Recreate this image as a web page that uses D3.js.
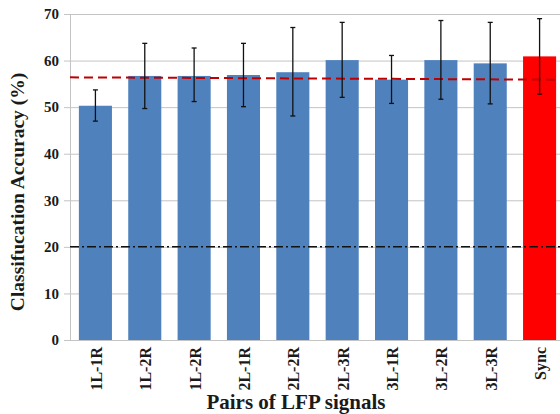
<!DOCTYPE html>
<html><head><meta charset="utf-8">
<script src="https://cdn.jsdelivr.net/npm/d3@7"></script>
<style>body{margin:0;background:#fff} text{font-family:"Liberation Serif","DejaVu Serif",serif;font-weight:bold;fill:#1a1a1a}</style>
</head><body>
<svg id="c" width="560" height="414"></svg>
<script>
const categories = ["1L-1R","1L-2R","1L-2R","2L-1R","2L-2R","2L-3R","3L-1R","3L-2R","3L-3R","Sync"];
const accuracy   = [50.3, 56.7, 56.7, 56.9, 57.5, 60.1, 55.9, 60.1, 59.4, 60.9];
const errLow     = [47.0, 49.7, 51.2, 50.1, 48.1, 52.1, 50.8, 51.7, 50.7, 52.8];
const errHigh    = [53.7, 63.7, 62.7, 63.7, 67.1, 68.2, 61.1, 68.6, 68.2, 69.0];
const barColors  = ["#4f81bd","#4f81bd","#4f81bd","#4f81bd","#4f81bd","#4f81bd","#4f81bd","#4f81bd","#4f81bd","#ff0000"];
const meanLine   = [56.4, 55.9];
const chanceLevel = [20, 20];
const yTicks = [0,10,20,30,40,50,60,70];

const svg = d3.select("#c");
const x = d3.scaleBand().domain(d3.range(categories.length)).range([70,565]).paddingInner(0.33).paddingOuter(0.18);
const y = d3.scaleLinear().domain([0,70]).range([340,14]);
const xl = d3.scaleLinear().domain([0,1]).range([70,560]);

// grid
svg.append("g").selectAll("line").data(yTicks).join("line")
  .attr("x1",64).attr("x2",560).attr("y1",d=>y(d)+0.5).attr("y2",d=>y(d)+0.5)
  .attr("stroke","#c4c4c4").attr("stroke-width",1);
svg.append("line").attr("x1",70.5).attr("x2",70.5).attr("y1",y(70)).attr("y2",y(0))
  .attr("stroke","#c4c4c4");

// y labels
svg.append("g").selectAll("text").data(yTicks).join("text")
  .attr("x",59).attr("y",d=>y(d)).attr("dy","0.35em").attr("text-anchor","end")
  .attr("font-size",15).text(d=>d);

// bars
svg.append("g").selectAll("rect").data(accuracy).join("rect")
  .attr("x",(d,i)=>x(i)).attr("width",x.bandwidth())
  .attr("y",d=>y(d)).attr("height",d=>y(0)-y(d))
  .attr("fill",(d,i)=>barColors[i]);

// chance line
const line = d3.line().x(d=>d[0]).y(d=>d[1]);
svg.append("path").attr("d",line(chanceLevel.map((v,i)=>[xl(i),y(v)])))
  .attr("stroke","#111").attr("stroke-width",1.5).attr("fill","none")
  .attr("stroke-dasharray","9,3,2,3");

// mean line
svg.append("path").attr("d",line(meanLine.map((v,i)=>[xl(i),y(v)])))
  .attr("stroke","#c00000").attr("stroke-width",2).attr("fill","none")
  .attr("stroke-dasharray","9,5");

// error bars
const eb = svg.append("g").attr("stroke","#111").attr("stroke-width",1.3);
categories.forEach((c,i)=>{
  const cx = x(i)+x.bandwidth()/2;
  eb.append("line").attr("x1",cx).attr("x2",cx).attr("y1",y(errLow[i])).attr("y2",y(errHigh[i]));
  eb.append("line").attr("x1",cx-2.5).attr("x2",cx+2.5).attr("y1",y(errLow[i])).attr("y2",y(errLow[i]));
  eb.append("line").attr("x1",cx-2.5).attr("x2",cx+2.5).attr("y1",y(errHigh[i])).attr("y2",y(errHigh[i]));
});

// x labels
svg.append("g").selectAll("text").data(categories).join("text")
  .attr("transform",(d,i)=>`translate(${x(i)+x.bandwidth()/2+1},347) rotate(-90)`)
  .attr("dy","0.35em").attr("text-anchor","end")
  .attr("font-size",16).text(d=>d);

// titles
svg.append("text").attr("x",296).attr("y",409).attr("text-anchor","middle")
  .attr("font-size",21).text("Pairs of LFP signals");
svg.append("text").attr("transform","translate(24,192) rotate(-90)").attr("text-anchor","middle")
  .attr("font-size",19.5).text("Classifucation Accuracy (%)");
</script>
</body></html>
